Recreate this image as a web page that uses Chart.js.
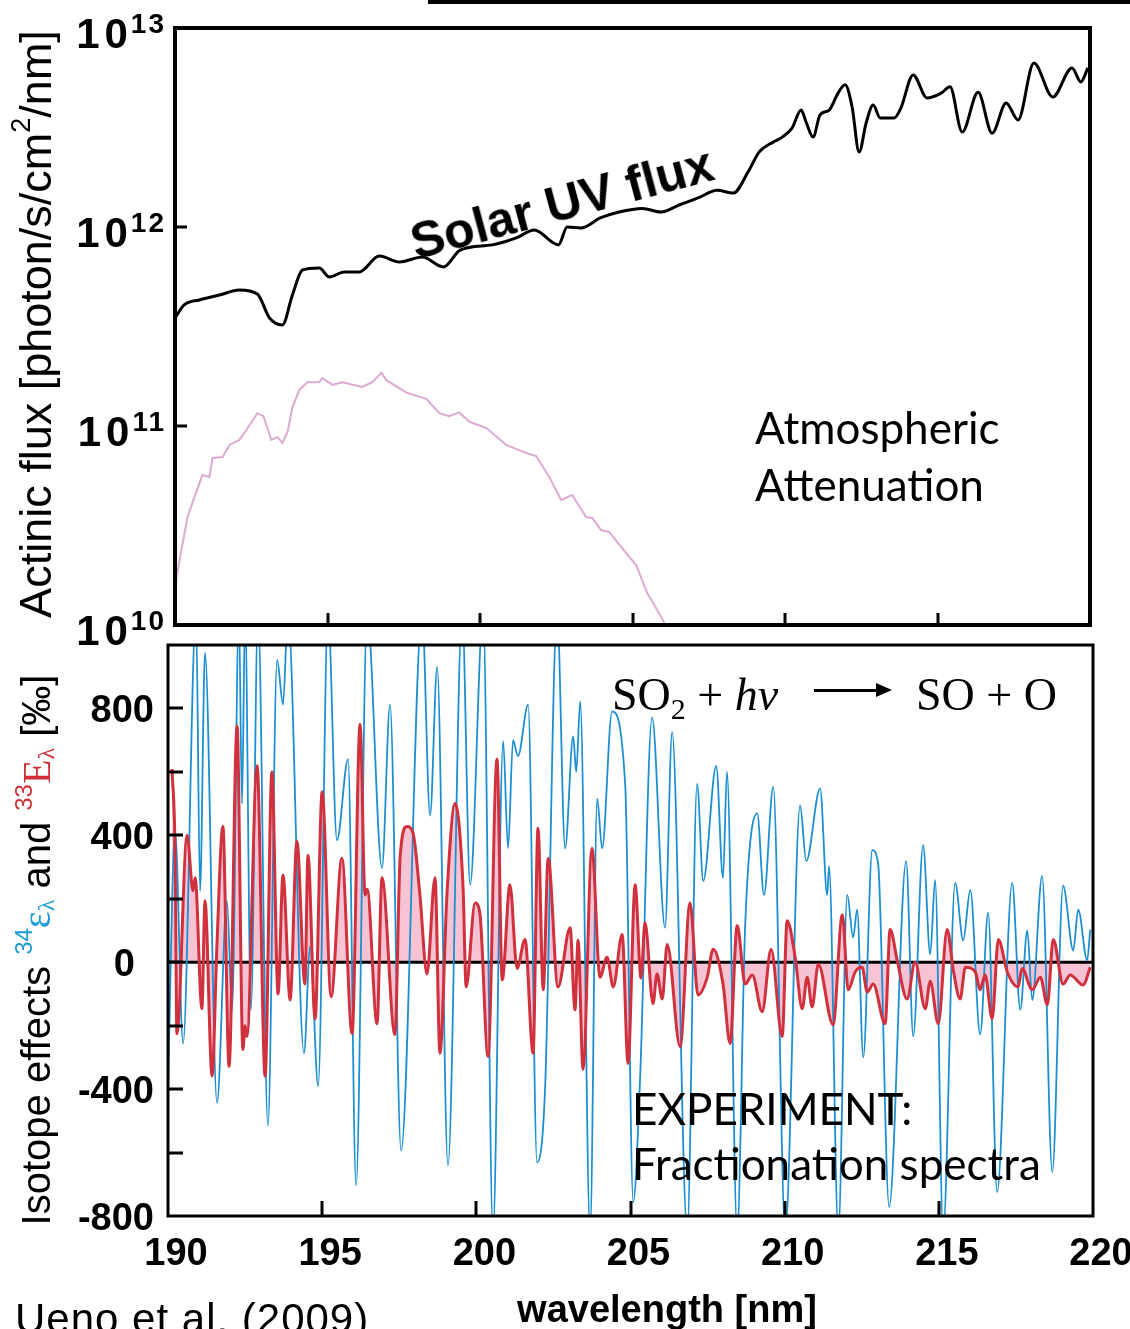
<!DOCTYPE html>
<html>
<head>
<meta charset="utf-8">
<title>Actinic flux and SO2 photolysis isotope effects</title>
<script src="https://cdn.jsdelivr.net/npm/chart.js@4.4.1/dist/chart.umd.min.js"></script>
<style>
  html, body { margin: 0; padding: 0; background: #fff; }
  body { position: relative; width: 1130px; height: 1329px; overflow: hidden; font-family: "Liberation Sans", Arial, sans-serif; color: #000; }
  canvas { position: absolute; left: 0; }
  #fluxChart { top: 0; }
  #effectChart { top: 630px; }
  .txt { position: absolute; white-space: nowrap; line-height: 1; }
  .tk1 { font-weight: bold; font-size: 42px; letter-spacing: 5px; }
  .tk1 .ex { font-size: 28px; position: relative; top: -15px; letter-spacing: 2px; margin-left: -2px; }
  .tk2 { font-weight: bold; font-size: 38px; }
  .ytitle { font-size: 45px; }
  .ytitle2 { font-size: 40px; }
  .ytitle2 sup, .ytitle sup { font-size: 0.6em; vertical-align: 0.75em; line-height: 0; }
  .ytitle2 sub { font-size: 0.6em; vertical-align: -0.2em; line-height: 0; }
  .serif { font-family: "Liberation Serif", "Times New Roman", serif; }
  .blu { color: #1a9ad6; }
  .red { color: #cf2f35; }
  .calib { font-family: Lato, "Open Sans", sans-serif; font-size: 44px; }
  .react { font-family: "Liberation Serif", "Times New Roman", serif; font-size: 46px; }
  .react sub { font-size: 0.65em; vertical-align: -0.3em; line-height: 0; }
  .solar { font-weight: bold; font-size: 50px; }
</style>
</head>
<body>
<div style="position:absolute;left:428px;top:0;width:702px;height:4px;background:#000"></div>
<canvas id="fluxChart" width="1130" height="640"></canvas>
<canvas id="effectChart" width="1130" height="699"></canvas>
<script>
// axis ticks
var wlTicks = [190, 195, 200, 205, 210, 215, 220];
var fluxTicks = [1e10, 1e11, 1e12, 1e13];
var effectTicks = [-800, -600, -400, -200, 0, 200, 400, 600, 800];
var effectLabels = [-800, -400, 0, 400, 800];

// solar UV actinic flux (top of atmosphere)
var solarWl = [190.0, 190.3, 190.8, 191.46, 192.11, 192.7, 193.1, 193.52, 193.85, 194.18, 194.73,
  195.06, 195.55, 196.04, 196.7, 197.36, 198.11, 198.8, 199.35, 200.4, 201.19, 201.78,
  202.57, 202.86, 203.32, 203.94, 204.56, 205.32, 205.94, 206.53, 207.15, 207.78, 208.3,
  208.82, 209.15, 209.61, 209.91, 210.23, 210.53, 210.69, 210.92, 211.15, 211.45, 211.74,
  211.97, 212.2, 212.43, 212.66, 212.89, 213.12, 213.58, 213.8, 214.2, 214.66, 215.12,
  215.41, 215.81, 216.33, 216.79, 217.25, 217.64, 218.16, 218.78, 219.41, 219.7, 219.93];
var solarFlux = [3.49e11, 4.06e11, 4.30e11, 4.55e11, 4.82e11, 4.60e11, 3.49e11, 3.22e11, 4.55e11, 6.08e11, 6.22e11,
  5.61e11, 5.94e11, 5.94e11, 7.14e11, 6.67e11, 7.06e11, 6.30e11, 7.66e11, 8.13e11, 8.81e11, 9.66e11,
  8.13e11, 1.00e12, 9.89e11, 1.11e12, 1.19e12, 1.24e12, 1.19e12, 1.29e12, 1.40e12, 1.53e12, 1.48e12,
  1.93e12, 2.38e12, 2.67e12, 2.83e12, 3.14e12, 3.87e12, 3.37e12, 2.83e12, 3.66e12, 3.87e12, 4.71e12,
  5.18e12, 4.01e12, 2.38e12, 3.33e12, 4.10e12, 3.53e12, 3.53e12, 3.96e12, 5.81e12, 4.45e12, 4.71e12,
  5.06e12, 3.00e12, 4.76e12, 2.96e12, 4.20e12, 3.45e12, 6.67e12, 4.50e12, 6.30e12, 5.36e12, 6.30e12];

// flux after atmospheric attenuation
var attenWl = [190.0, 190.05, 190.21, 190.41, 190.64, 190.9, 191.13, 191.23, 191.56, 191.79, 192.11,
  192.34, 192.7, 192.9, 193.16, 193.36, 193.52, 193.69, 193.85, 194.08, 194.34, 194.73,
  194.83, 195.16, 195.49, 196.14, 196.47, 196.77, 196.93, 197.59, 198.24, 198.67, 198.99,
  199.32, 199.65, 200.21, 200.86, 201.52, 201.84, 202.27, 202.66, 203.02, 203.48, 203.68,
  203.97, 204.24, 204.79, 205.12, 205.48, 205.97, 206.2];
var attenFlux = [1.34e10, 1.74e10, 2.38e10, 3.49e10, 4.40e10, 5.67e10, 5.55e10, 6.91e10, 6.98e10, 8.03e10, 8.51e10,
  9.55e10, 1.16e11, 1.12e11, 8.51e10, 8.81e10, 8.22e10, 9.33e10, 1.24e11, 1.52e11, 1.66e11, 1.66e11,
  1.74e11, 1.61e11, 1.66e11, 1.57e11, 1.66e11, 1.85e11, 1.70e11, 1.47e11, 1.37e11, 1.16e11, 1.12e11,
  1.17e11, 1.05e11, 9.77e10, 8.03e10, 7.31e10, 7.06e10, 5.55e10, 4.25e10, 4.50e10, 3.49e10, 3.45e10,
  3.00e10, 2.93e10, 2.30e10, 2.00e10, 1.45e10, 1.08e10, 9.0e9];

// 34-epsilon (blue)
var eps34Wl = [190.0, 190.23, 190.49, 190.91, 191.04, 191.2, 191.59, 191.91, 192.08, 192.3, 192.4,
  192.5, 192.69, 192.92, 193.24, 193.54, 193.73, 193.89, 194.41, 194.61, 194.87, 195.19,
  195.48, 195.84, 196.1, 196.46, 196.94, 197.2, 197.56, 198.24, 198.5, 198.73, 199.08,
  199.54, 199.8, 200.22, 200.54, 200.87, 201.03, 201.19, 201.35, 201.68, 201.97, 202.23,
  202.62, 202.88, 203.14, 203.24, 203.37, 203.69, 203.92, 204.08, 204.4, 204.83, 205.09,
  205.31, 205.7, 206.12, 206.35, 206.84, 207.16, 207.36, 207.78, 208.0, 208.13, 208.46,
  208.72, 209.11, 209.33, 209.63, 210.02, 210.5, 210.7, 211.15, 211.38, 211.44, 211.74,
  212.03, 212.22, 212.35, 212.55, 212.84, 213.03, 213.39, 213.94, 214.17, 214.49, 214.72,
  214.88, 215.14, 215.53, 215.79, 216.02, 216.34, 216.6, 216.89, 217.38, 217.64, 217.87,
  218.03, 218.35, 218.68, 219.03, 219.36, 219.52, 219.81, 219.91];
var eps34 = [-381, 412, -256, 1100, 225, 975, -443, 194, -150, 1100, 500,
  1100, -150, 1100, -516, 953, 812, 1100, -287, 50, -391, 1100,
  384, 640, -703, 1100, 297, 812, -594, 1100, 462, 931, -641,
  1100, 244, 1100, -850, 697, 359, 700, 650, 812, -631, -397,
  1100, 359, 712, 600, 822, -850, 516, 359, 790, 556, -756,
  -369, 772, 109, 725, -850, 562, 256, 619, 266, 600, -850,
  119, 469, 212, 553, -850, 494, 319, 547, 212, 303, -850,
  212, 78, 166, -300, 353, 312, -772, 319, -234, 369, 25,
  259, -850, 250, 69, 228, -228, 156, -725, 250, -150, 100,
  -119, 272, -662, 241, 37, 166, 6, 103];

// 33-E (red)
var cap33Wl = [190.13, 190.23, 190.29, 190.62, 190.81, 190.88, 191.1, 191.2, 191.43, 191.59, 191.78,
  191.98, 192.24, 192.43, 192.5, 192.56, 192.89, 193.15, 193.37, 193.57, 193.73, 193.96,
  194.18, 194.44, 194.54, 194.77, 195.0, 195.29, 195.64, 195.97, 196.23, 196.39, 196.46,
  196.78, 196.94, 197.36, 197.53, 197.75, 197.95, 198.17, 198.4, 198.66, 198.82, 199.05,
  199.31, 199.57, 199.67, 199.96, 200.12, 200.38, 200.67, 200.84, 201.09, 201.32, 201.58,
  201.84, 202.0, 202.17, 202.33, 202.65, 203.04, 203.2, 203.3, 203.46, 203.75, 204.01,
  204.24, 204.44, 204.73, 204.92, 205.15, 205.34, 205.47, 205.73, 205.86, 206.03, 206.19,
  206.61, 206.93, 207.19, 207.49, 207.68, 208.0, 208.23, 208.46, 208.72, 208.95, 209.27,
  209.56, 209.92, 210.08, 210.34, 210.57, 210.73, 210.89, 211.09, 211.57, 211.87, 212.06,
  212.29, 212.51, 212.68, 212.87, 213.26, 213.42, 213.65, 213.97, 214.23, 214.56, 214.72,
  214.98, 215.27, 215.47, 215.69, 215.86, 216.18, 216.34, 216.5, 216.73, 216.93, 217.22,
  217.57, 217.7, 218.03, 218.29, 218.52, 218.71, 219.03, 219.26, 219.68, 219.91];
var cap33 = [609, 350, -225, 400, 225, 266, -147, 194, -359, 62, 428,
  -328, 744, -275, -200, -234, 619, -359, 600, -100, 275, -119,
  381, -69, 337, -178, 537, -109, 328, -225, 750, 212, 230,
  -194, 266, -228, 334, 428, 406, 212, -37, 266, -287, 219,
  500, 234, -78, 187, 150, -297, 640, -56, 244, -20, 72,
  -287, 422, -87, 328, -78, 109, -150, 69, -337, 359, -47,
  16, -78, 87, -319, 244, -50, 125, -131, -37, -116, 56,
  -266, 187, -103, -47, 41, -69, -256, 116, -69, -40, -156,
  41, -234, 131, 16, -147, -47, -141, -6, -197, 150, -87,
  -30, -16, -94, -69, -194, 103, 6, -116, 0, -147, -60,
  -194, 103, -25, -116, -16, -30, -87, -40, -178, 72, -31,
  -78, -20, -87, -47, -134, 72, -69, -40, -72, -16];

function pts(xs, ys) {
  return xs.map(function (x, i) { return { x: x, y: ys[i] }; });
}

// inward tick marks and the frame round the plot area
var boxTicks = {
  id: 'boxTicks',
  afterDatasetsDraw: function (chart, args, o) {
    var ctx = chart.ctx, a = chart.chartArea;
    var sx = chart.scales.x, sy = chart.scales.y;
    ctx.save();
    ctx.strokeStyle = '#000';
    ctx.lineWidth = o.tickWidth;
    ctx.beginPath();
    o.xTicks.forEach(function (v) {
      var px = Math.round(sx.getPixelForValue(v));
      ctx.moveTo(px, a.bottom);
      ctx.lineTo(px, a.bottom - o.tickLen);
    });
    o.yTicks.forEach(function (v) {
      var py = Math.round(sy.getPixelForValue(v));
      ctx.moveTo(a.left, py);
      ctx.lineTo(a.left + o.tickLen, py);
    });
    ctx.stroke();
    ctx.lineWidth = o.frame;
    ctx.strokeRect(a.left, a.top, a.right - a.left, a.bottom - a.top);
    ctx.restore();
  }
};

Chart.defaults.font.family = '"Liberation Sans", Arial, sans-serif';

var fluxChart = new Chart(document.getElementById('fluxChart').getContext('2d'), {
  type: 'line',
  data: {
    datasets: [{
      label: 'Solar UV flux',
      data: pts(solarWl, solarFlux),
      borderColor: '#000',
      borderWidth: 3,
      cubicInterpolationMode: 'monotone',
      pointRadius: 0,
      clip: 0
    }, {
      label: 'Atmospheric attenuation',
      data: pts(attenWl, attenFlux),
      borderColor: '#dcaad2',
      borderWidth: 2,
      tension: 0,
      pointRadius: 0,
      clip: 0
    }]
  },
  options: {
    responsive: false,
    animation: false,
    layout: { padding: { left: 175, right: 40, top: 28, bottom: 15 } },
    plugins: {
      legend: { display: false },
      tooltip: { enabled: false },
      boxTicks: { xTicks: wlTicks.slice(1, -1), yTicks: fluxTicks.slice(1, -1), tickLen: 12, tickWidth: 3, frame: 4 }
    },
    scales: {
      x: { type: 'linear', min: 190, max: 220, display: false },
      y: { type: 'logarithmic', min: 1e10, max: 1e13, display: false }
    }
  },
  plugins: [boxTicks]
});

var effectChart = new Chart(document.getElementById('effectChart').getContext('2d'), {
  type: 'line',
  data: {
    datasets: [{
      label: '33E',
      data: pts(cap33Wl, cap33),
      borderColor: '#d0313c',
      borderWidth: 3,
      cubicInterpolationMode: 'monotone',
      pointRadius: 0,
      fill: false,
      clip: 0
    }, {
      label: '34eps',
      data: pts(eps34Wl, eps34),
      borderColor: '#1b8fd2',
      borderWidth: 1.8,
      cubicInterpolationMode: 'monotone',
      pointRadius: 0,
      fill: false,
      clip: 0
    }, {
      label: 'zero',
      data: pts([wlTicks[0], wlTicks[wlTicks.length - 1]], [0, 0]),
      borderColor: '#000',
      borderWidth: 3,
      pointRadius: 0,
      fill: false,
      clip: 0
    }, {
      label: '33E area',
      data: pts(cap33Wl, cap33),
      borderWidth: 0,
      borderColor: 'rgba(0,0,0,0)',
      backgroundColor: '#f6c3d5',
      cubicInterpolationMode: 'monotone',
      pointRadius: 0,
      fill: 'origin',
      clip: 0
    }]
  },
  options: {
    responsive: false,
    animation: false,
    layout: { padding: { left: 168, right: 37, top: 15, bottom: 113 } },
    plugins: {
      legend: { display: false },
      tooltip: { enabled: false },
      boxTicks: { xTicks: wlTicks.slice(1, -1), yTicks: effectTicks.slice(1), tickLen: 15, tickWidth: 3, frame: 3 }
    },
    scales: {
      x: { type: 'linear', min: 190, max: 220, display: false },
      y: { type: 'linear', min: -800, max: 1000, display: false }
    }
  },
  plugins: [boxTicks]
});

function addText(html, cls, css) {
  var d = document.createElement('div');
  d.className = 'txt ' + cls;
  d.innerHTML = html;
  for (var k in css) d.style[k] = css[k];
  document.body.appendChild(d);
  return d;
}

// tick labels, placed from the chart scales
var fy = fluxChart.scales.y;
fluxTicks.forEach(function (v) {
  addText('10<span class="ex">' + Math.round(Math.log10(v)) + '</span>', 'tk1', {
    right: (1130 - 166) + 'px', top: (fy.getPixelForValue(v) + 6) + 'px', transform: 'translateY(-50%)'
  });
});
var ey = effectChart.scales.y, ex = effectChart.scales.x;
effectLabels.forEach(function (v) {
  addText(String(v), 'tk2', {
    right: (1130 - (v === 0 ? 135 : 154)) + 'px', top: (630 + ey.getPixelForValue(v) + 1) + 'px', transform: 'translateY(-50%)'
  });
});
wlTicks.forEach(function (v) {
  addText(String(v), 'tk2', {
    left: (ex.getPixelForValue(v) + 8) + 'px', top: '1252px', transform: 'translate(-50%, -50%)'
  });
});

// axis titles
addText('Actinic flux [photon/s/cm<sup>2</sup>/nm]', 'ytitle', {
  left: '35px', top: '324px', transform: 'translate(-50%, -50%) rotate(-90deg)'
});
addText('Isotope effects <span class="blu"><sup>34</sup><span class="serif">&epsilon;</span><sub class="serif">&lambda;</sub></span> and ' +
  '<span class="red"><sup>33</sup><span class="serif">E</span><sub class="serif">&lambda;</sub></span> [&permil;]', 'ytitle2', {
  left: '36px', top: '950px', transform: 'translate(-50%, -50%) rotate(-90deg)'
});
addText('wavelength [nm]', 'tk2', { left: '667px', top: '1309px', transform: 'translate(-50%, -50%)' });
addText('Ueno et al. (2009)', '', { left: '15px', top: '1298px', fontSize: '42px', letterSpacing: '1px' });

// annotations
addText('Solar UV flux', 'solar', { left: '562px', top: '203px', transform: 'translate(-50%, -50%) rotate(-15deg)' });
addText('Atmospheric', 'calib', { left: '755px', top: '405px' });
addText('Attenuation', 'calib', { left: '755px', top: '462px' });
addText('EXPERIMENT:', 'calib', { left: '632px', top: '1086px' });
addText('Fractionation spectra', 'calib', { left: '632px', top: '1141px' });
addText('SO<sub>2</sub> + <i>hv</i>', 'react', { left: '612px', top: '672px' });
addText('SO + O', 'react', { left: '916px', top: '672px' });
addText('<div style="position:absolute;left:0;top:-1px;width:64px;height:3px;background:#000"></div>' +
  '<div style="position:absolute;left:62px;top:-7px;width:0;height:0;border-top:7px solid transparent;border-bottom:7px solid transparent;border-left:16px solid #000"></div>',
  '', { left: '814px', top: '690px' });
</script>
</body>
</html>
